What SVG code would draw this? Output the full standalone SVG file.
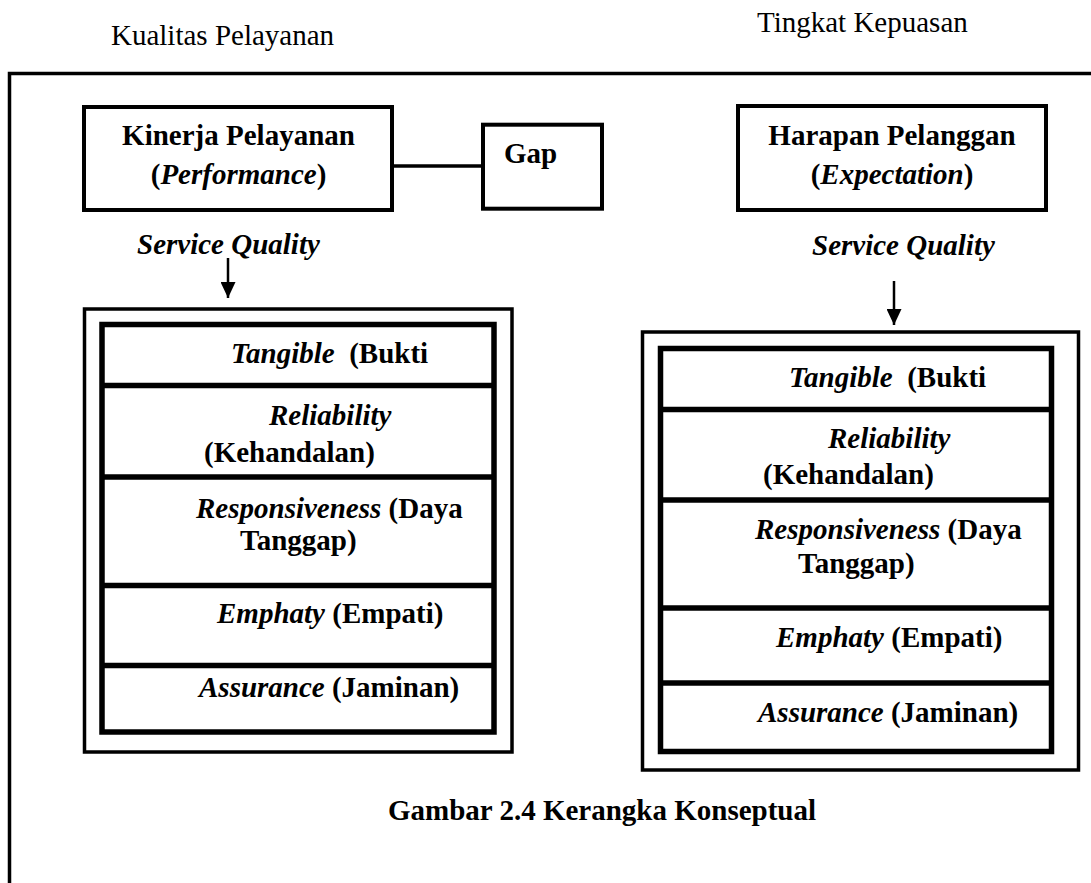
<svg xmlns="http://www.w3.org/2000/svg" width="1091" height="883" viewBox="0 0 1091 883">
<style>
text{font-family:"Liberation Serif","Times New Roman",serif;fill:#000;font-size:29px}
.b{font-weight:bold}
.bi{font-weight:bold;font-style:italic}
.box{fill:#fff;stroke:#000;stroke-width:4}
.outer{fill:#fff;stroke:#000;stroke-width:3.5}
.inner{fill:none;stroke:#000;stroke-width:5.5}
.div{stroke:#000;stroke-width:5.5}
.conn{stroke:#000;stroke-width:3.5;fill:none}
.arr{stroke:#000;stroke-width:2.5;fill:none}
</style>
<defs>
<marker id="ah" viewBox="0 0 16 15" refX="16" refY="7.5" markerWidth="16" markerHeight="15" markerUnits="userSpaceOnUse" orient="auto">
<path d="M0,0 L16,7.5 L0,15 z" fill="#000"/>
</marker>
</defs>
<rect width="1091" height="883" fill="#fff"/>
<g id="labels">
<text x="111" y="45">Kualitas Pelayanan</text>
<text x="757" y="32">Tingkat Kepuasan</text>
</g>
<g id="frame">
<path d="M9.5,883 V73.5 H1091" class="conn" stroke-width="4"/>
</g>
<g id="connectors">
<line x1="392" y1="166" x2="483" y2="166" class="conn"/>
<line x1="228" y1="258" x2="228" y2="298" class="arr" marker-end="url(#ah)"/>
<line x1="894" y1="281" x2="894" y2="325" class="arr" marker-end="url(#ah)"/>
</g>
<g id="kinerja">
<rect x="84" y="107" width="308" height="103" class="box"/>
<text x="238.5" y="145" text-anchor="middle" class="b">Kinerja Pelayanan</text>
<text x="238.5" y="184" text-anchor="middle" class="b">(<tspan class="bi">Performance</tspan>)</text>
</g>
<g id="gap">
<rect x="483" y="124.7" width="119" height="84" class="box"/>
<text x="504" y="163" class="b">Gap</text>
</g>
<g id="harapan">
<rect x="738" y="106" width="308" height="104" class="box"/>
<text x="892" y="145" text-anchor="middle" class="b">Harapan Pelanggan</text>
<text x="892" y="184" text-anchor="middle" class="b">(<tspan class="bi">Expectation</tspan>)</text>
</g>
<g id="sq-left">
<text x="137" y="254" class="bi">Service Quality</text>
</g>
<g id="sq-right">
<text x="812" y="255" class="bi">Service Quality</text>
</g>
<g id="stack-left">
<rect x="84.5" y="309" width="427.5" height="443" class="outer"/>
<rect x="102" y="324.5" width="392" height="407.5" class="inner"/>
<line x1="102" y1="385.5" x2="494" y2="385.5" class="div"/>
<line x1="102" y1="477" x2="494" y2="477" class="div"/>
<line x1="102" y1="585.5" x2="494" y2="585.5" class="div"/>
<line x1="102" y1="665.5" x2="494" y2="665.5" class="div"/>
<text x="231" y="363" xml:space="preserve"><tspan class="bi">Tangible</tspan><tspan class="b">  (Bukti</tspan></text>
<text x="269" y="425" class="bi">Reliability</text>
<text x="204" y="462" class="b" font-size="32">(Kehandalan)</text>
<text x="196" y="518"><tspan class="bi">Responsiveness</tspan><tspan class="b"> (Daya</tspan></text>
<text x="240" y="550" class="b">Tanggap)</text>
<text x="217" y="623"><tspan class="bi">Emphaty</tspan><tspan class="b"> (Empati)</tspan></text>
<text x="199" y="697"><tspan class="bi">Assurance</tspan><tspan class="b"> (Jaminan)</tspan></text>
</g>
<g id="stack-right">
<rect x="642.5" y="332" width="436" height="438" class="outer"/>
<rect x="660.5" y="348.5" width="391" height="403" class="inner"/>
<line x1="660.5" y1="409.5" x2="1051.5" y2="409.5" class="div"/>
<line x1="660.5" y1="500" x2="1051.5" y2="500" class="div"/>
<line x1="660.5" y1="608" x2="1051.5" y2="608" class="div"/>
<line x1="660.5" y1="683" x2="1051.5" y2="683" class="div"/>
<text x="789" y="387" xml:space="preserve"><tspan class="bi">Tangible</tspan><tspan class="b">  (Bukti</tspan></text>
<text x="828" y="448" class="bi">Reliability</text>
<text x="763" y="484" class="b" font-size="32">(Kehandalan)</text>
<text x="755" y="539"><tspan class="bi">Responsiveness</tspan><tspan class="b"> (Daya</tspan></text>
<text x="798" y="573" class="b">Tanggap)</text>
<text x="776" y="647"><tspan class="bi">Emphaty</tspan><tspan class="b"> (Empati)</tspan></text>
<text x="758" y="722"><tspan class="bi">Assurance</tspan><tspan class="b"> (Jaminan)</tspan></text>
</g>
<g id="caption">
<text x="602" y="820" text-anchor="middle" class="b">Gambar 2.4 Kerangka Konseptual</text>
</g>
</svg>
